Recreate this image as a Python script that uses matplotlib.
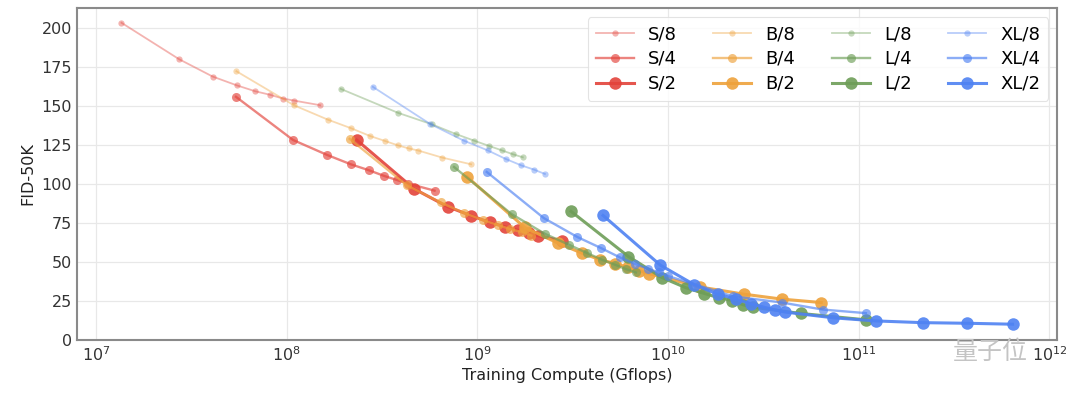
import matplotlib
matplotlib.use("Agg")
import matplotlib.pyplot as plt
from matplotlib.ticker import LogLocator, NullLocator

plt.rcParams['font.family'] = ['DejaVu Sans', 'Noto Sans CJK SC']

# Training compute (Gflops) and FID-50K per model
s8_x = [1.36e7, 2.73e7, 4.09e7, 5.46e7, 6.82e7, 8.18e7, 9.55e7, 1.09e8, 1.50e8]
s8_y = [203.5, 180.1, 169.0, 163.4, 159.6, 157.3, 154.9, 153.6, 150.6]
s4_x = [5.42e7, 1.08e8, 1.63e8, 2.17e8, 2.71e8, 3.25e8, 3.79e8, 4.34e8, 5.96e8]
s4_y = [156.0, 128.3, 118.7, 112.7, 108.8, 105.2, 102.6, 100.3, 95.8]
s2_x = [2.33e8, 4.65e8, 6.98e8, 9.30e8, 1.16e9, 1.40e9, 1.63e9, 1.86e9, 2.09e9, 2.79e9]
s2_y = [128.3, 97.0, 85.5, 79.7, 75.4, 72.6, 70.4, 68.6, 66.8, 63.6]

b8_x = [5.45e7, 1.09e8, 1.64e8, 2.18e8, 2.73e8, 3.27e8, 3.82e8, 4.36e8, 4.91e8, 6.54e8, 9.27e8]
b8_y = [172.4, 150.6, 141.4, 135.8, 130.9, 127.7, 124.9, 122.9, 121.5, 117.0, 112.7]
b4_x = [2.14e8, 4.27e8, 6.41e8, 8.54e8, 1.07e9, 1.28e9, 1.49e9, 1.71e9, 1.92e9]
b4_y = [129.0, 99.2, 88.2, 81.4, 76.9, 73.7, 71.1, 69.2, 67.0]
b2_x = [8.84e8, 1.77e9, 2.65e9, 3.53e9, 4.42e9, 5.30e9, 6.19e9, 7.07e9, 7.95e9,
        1.47e10, 2.49e10, 3.95e10, 6.36e10]
b2_y = [104.6, 72.2, 62.1, 55.7, 51.4, 49.0, 46.5, 44.5, 42.5, 34.0, 29.4, 26.2, 24.0]

l8_x = [1.92e8, 3.84e8, 5.76e8, 7.68e8, 9.60e8, 1.15e9, 1.34e9, 1.54e9, 1.73e9]
l8_y = [161.1, 145.7, 138.4, 132.2, 127.9, 124.5, 121.7, 119.1, 117.2]
l4_x = [7.54e8, 1.51e9, 2.26e9, 3.02e9, 3.77e9, 4.52e9, 5.28e9, 6.03e9, 6.79e9]
l4_y = [111.0, 80.8, 68.1, 61.1, 55.7, 51.4, 48.2, 45.4, 43.3]
l2_x = [3.10e9, 6.20e9, 9.30e9, 1.24e10, 1.55e10, 1.86e10, 2.17e10, 2.48e10, 2.79e10,
        4.96e10, 1.09e11]
l2_y = [82.5, 53.5, 40.0, 33.5, 29.8, 27.0, 25.3, 22.5, 21.0, 17.0, 12.9]

xl8_x = [2.83e8, 5.65e8, 8.48e8, 1.13e9, 1.41e9, 1.70e9, 1.98e9, 2.26e9]
xl8_y = [162.4, 138.6, 127.9, 121.7, 116.1, 112.0, 109.3, 106.5]
xl4_x = [1.12e9, 2.23e9, 3.35e9, 4.46e9, 5.58e9, 6.69e9, 7.81e9, 8.92e9, 1.00e10,
         2.19e10, 3.95e10, 6.47e10, 1.09e11]
xl4_y = [107.8, 78.2, 66.0, 58.9, 53.0, 48.8, 45.8, 43.3, 41.0, 28.0, 24.0, 19.5, 17.2]
xl2_x = [4.56e9, 9.11e9, 1.37e10, 1.82e10, 2.28e10, 2.73e10, 3.19e10, 3.64e10, 4.10e10,
         7.35e10, 1.23e11, 2.16e11, 3.71e11, 6.41e11]
xl2_y = [79.9, 48.0, 35.5, 29.4, 26.2, 23.1, 21.0, 19.3, 17.9, 14.2, 12.2, 11.1, 10.7, 10.1]

series_names = ["S/8", "S/4", "S/2", "B/8", "B/4", "B/2",
                "L/8", "L/4", "L/2", "XL/8", "XL/4", "XL/2"]
series_x = [s8_x, s4_x, s2_x, b8_x, b4_x, b2_x, l8_x, l4_x, l2_x, xl8_x, xl4_x, xl2_x]
series_y = [s8_y, s4_y, s2_y, b8_y, b4_y, b2_y, l8_y, l4_y, l2_y, xl8_y, xl4_y, xl2_y]

base_colors = {"S": "#e3433b", "B": "#eea23c", "L": "#6e9e58", "XL": "#4f82f2"}
patch_alpha = {"8": 0.4, "4": 0.65, "2": 0.9}
patch_ms = {"8": 4.5, "4": 6.5, "2": 9.0}
patch_lw = {"8": 1.3, "4": 1.7, "2": 2.2}

fig = plt.figure(figsize=(10.8, 3.99), dpi=100)
ax = fig.add_axes([0.0716, 0.148, 0.9074, 0.832])

for name, xs, ys in zip(series_names, series_x, series_y):
    size, patch = name.split("/")
    ax.plot(xs, ys, marker="o", color=base_colors[size], alpha=patch_alpha[patch],
            ms=patch_ms[patch], lw=patch_lw[patch], mew=0, label=name)

ax.set_xscale("log")
ax.set_xlim(7.98e6, 1.10e12)
ax.set_ylim(0, 213)
ax.set_yticks([0, 25, 50, 75, 100, 125, 150, 175, 200])
ax.xaxis.set_major_locator(LogLocator(base=10, numticks=20))
ax.xaxis.set_minor_locator(NullLocator())
ax.tick_params(axis="both", length=0, labelsize=11.5, colors="#333333", pad=4)
ax.grid(True, color="#e8e8e8", lw=0.9)
ax.set_axisbelow(True)
for sp in ax.spines.values():
    sp.set_color("#8a8a8a")
    sp.set_linewidth(1.5)

ax.set_xlabel("Training Compute (Gflops)", fontsize=11.5, color="#222222", labelpad=3)
ax.set_ylabel("FID-50K", fontsize=11.5, color="#222222", labelpad=4)

leg = ax.legend(ncol=4, loc="upper right", fontsize=13, frameon=True,
                bbox_to_anchor=(1.0, 1.0), borderaxespad=0.5,
                handlelength=2.1, handletextpad=0.8, columnspacing=2.0,
                labelspacing=0.38, borderpad=0.45)
leg.get_frame().set_edgecolor("#dddddd")
leg.get_frame().set_linewidth(0.8)

fig.text(0.917, 0.118, "量子位", fontsize=18, color="#c4c4c4",
         family=["Noto Sans CJK SC", "DejaVu Sans"], ha="center", va="center")

fig.savefig("out.png", dpi=100)
